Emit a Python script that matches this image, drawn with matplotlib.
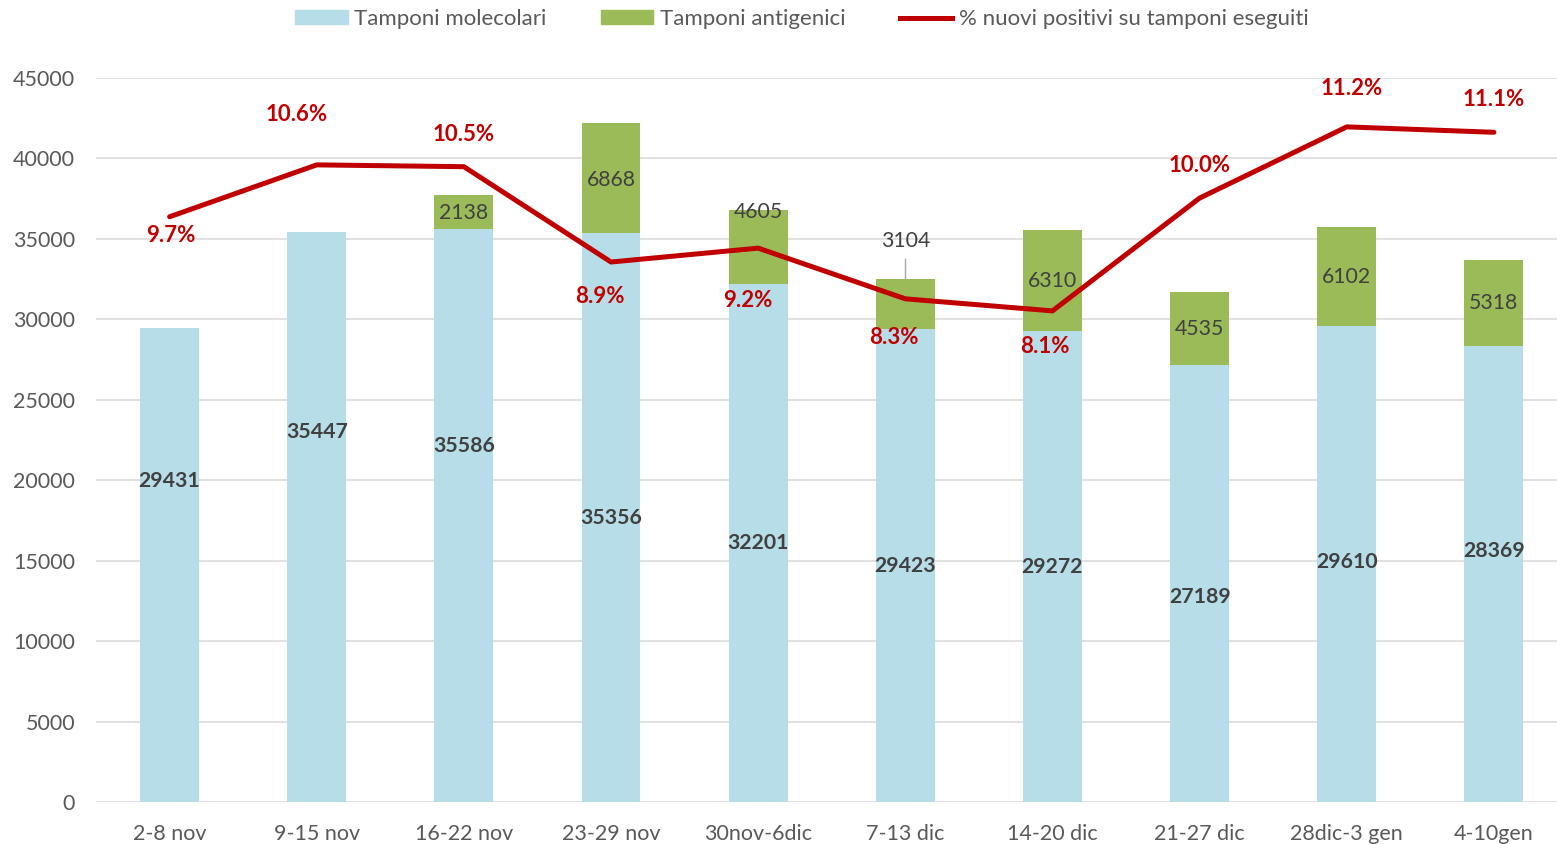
import matplotlib.pyplot as plt
from matplotlib.lines import Line2D
from matplotlib.patches import Patch

weeks = ['2-8 nov', '9-15 nov', '16-22 nov', '23-29 nov', '30nov-6dic',
         '7-13 dic', '14-20 dic', '21-27 dic', '28dic-3 gen', '4-10gen']
molecolari = [29431, 35447, 35586, 35356, 32201, 29423, 29272, 27189, 29610, 28369]
antigenici = [0, 0, 2138, 6868, 4605, 3104, 6310, 4535, 6102, 5318]
perc_positivi = [9.70, 10.56, 10.53, 8.95, 9.18, 8.34, 8.14, 10.01, 11.19, 11.10]
perc_labels = ['9.7%', '10.6%', '10.5%', '8.9%', '9.2%', '8.3%', '8.1%', '10.0%', '11.2%', '11.1%']

# where the labels sit (as placed by hand in the original)
mol_label_y = [19950, 23000, 22130, 17650, 16100, 14670, 14610, 12740, 14920, 15600]
ant_label_y = [None, None, 36610, 38660, 36670, 34870, 32380, 29400, 32630, 31015]
perc_label_dx = [0.01, -0.14, 0.0, -0.075, -0.07, -0.08, -0.05, 0.0, 0.03, 0.0]
perc_label_y = [35180, 42760, 41460, 31390, 31140, 28900, 28340, 39590, 44320, 43690]

BLUE = '#B7DEE8'
GREEN = '#9BBB59'
RED = '#C00000'
GREY = '#595959'
DARK = '#404040'

plt.rcParams['font.family'] = ['Lato', 'DejaVu Sans']

fig = plt.figure(figsize=(15.57, 8.44), dpi=100)
ax = fig.add_axes([96 / 1557, 1 - 802 / 844, (1567.5 - 96) / 1557, (802 - 78) / 844])

x = list(range(len(weeks)))
ax.bar(x, molecolari, width=0.4, color=BLUE, zorder=2)
ax.bar(x, antigenici, width=0.4, bottom=molecolari, color=GREEN, zorder=2)

ax.set_xlim(-0.5, len(weeks) - 0.5)
ax.set_ylim(0, 45000)
ax.set_yticks(range(0, 45001, 5000))
ax.set_xticks(x)
ax.set_xticklabels(weeks)
ax.grid(axis='y', color='#D9D9D9', lw=1.1, zorder=0)
ax.set_axisbelow(True)
for s in ax.spines.values():
    s.set_visible(False)
ax.tick_params(axis='both', length=0, labelsize=15.5, colors=GREY)
ax.tick_params(axis='y', pad=15)
ax.tick_params(axis='x', pad=16)

for i in x:
    ax.text(i, mol_label_y[i], str(molecolari[i]), ha='center', va='center',
            fontsize=15.3, fontweight='bold', color=DARK, zorder=5)
    if antigenici[i] > 0:
        ax.text(i, ant_label_y[i], str(antigenici[i]), ha='center', va='center',
                fontsize=15.3, color=DARK, zorder=5)

# leader line for the 3104 label
top = molecolari[5] + antigenici[5]
ax.plot([5, 5], [top, top + 1250], color='#A6A6A6', lw=1, zorder=5)

ax2 = ax.twinx()
ax2.set_ylim(0, 12)
ax2.axis('off')
ax2.plot(x, perc_positivi, color=RED, lw=3.6, solid_capstyle='round', zorder=4)

for i in x:
    ax.text(i + perc_label_dx[i], perc_label_y[i], perc_labels[i], ha='center', va='center',
            fontsize=16, fontweight='bold', color=RED, zorder=6)

handles = [Patch(color=BLUE), Patch(color=GREEN), Line2D([], [], color=RED, lw=3.6)]
fig.legend(handles, ['Tamponi molecolari', 'Tamponi antigenici',
                     '% nuovi positivi su tamponi eseguiti'],
           loc='center', bbox_to_anchor=(802 / 1557, 1 - 19 / 844), ncol=3, frameon=False,
           fontsize=16, labelcolor=GREY, handlelength=2.35, handleheight=0.6,
           handletextpad=0.3, columnspacing=2.45)

fig.savefig('out.png', dpi=100)
